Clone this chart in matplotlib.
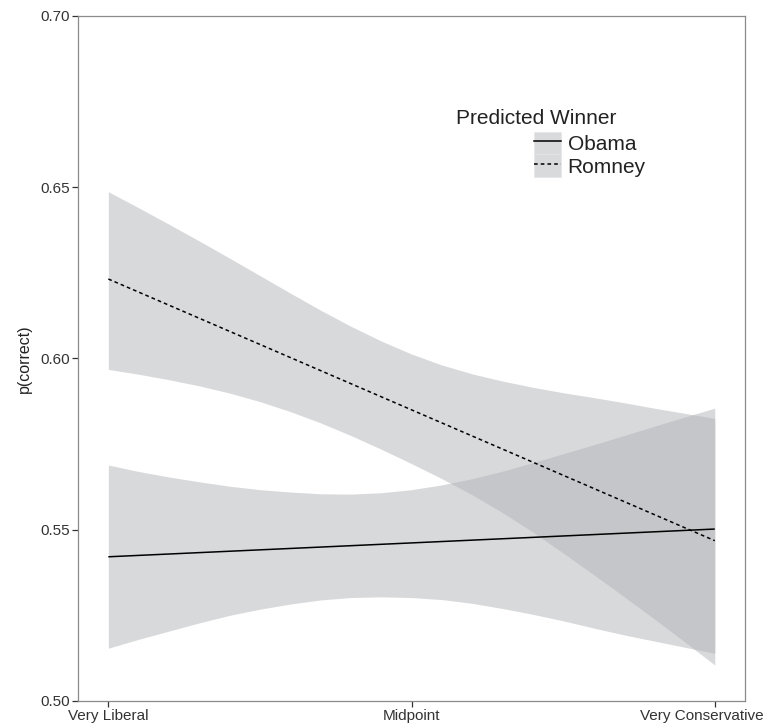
import matplotlib
matplotlib.use('Agg')
import matplotlib.pyplot as plt
import matplotlib.transforms as mtransforms
from matplotlib.patches import Patch
from matplotlib.lines import Line2D

plt.rcParams['font.family'] = ['Liberation Sans', 'DejaVu Sans']

# ideology position (0 = very liberal, 1 = very conservative)
x = [0.00, 0.05, 0.10, 0.15, 0.20, 0.25, 0.30, 0.35, 0.40, 0.45, 0.50,
     0.55, 0.60, 0.65, 0.70, 0.75, 0.80, 0.85, 0.90, 0.95, 1.00]
fit_x = [0.0, 1.0]

# Obama predicted winner: fitted line and confidence band
obama_fit = [0.5421, 0.5502]
obama_hi = [0.5689, 0.5670, 0.5654, 0.5640, 0.5627, 0.5617, 0.5610, 0.5605, 0.5604, 0.5608, 0.5617,
            0.5631, 0.5649, 0.5671, 0.5696, 0.5722, 0.5748, 0.5775, 0.5802, 0.5829, 0.5855]
obama_lo = [0.5154, 0.5180, 0.5204, 0.5228, 0.5250, 0.5268, 0.5283, 0.5295, 0.5302, 0.5304, 0.5302,
            0.5296, 0.5285, 0.5270, 0.5253, 0.5234, 0.5213, 0.5193, 0.5175, 0.5157, 0.5139]

# Romney predicted winner: fitted line and confidence band
romney_fit = [0.6232, 0.5468]
romney_hi = [0.6487, 0.6440, 0.6392, 0.6343, 0.6293, 0.6242, 0.6191, 0.6141, 0.6094, 0.6051, 0.6013,
             0.5981, 0.5955, 0.5934, 0.5916, 0.5900, 0.5886, 0.5871, 0.5855, 0.5840, 0.5825]
romney_lo = [0.5968, 0.5954, 0.5938, 0.5920, 0.5899, 0.5874, 0.5845, 0.5812, 0.5775, 0.5735, 0.5693,
             0.5649, 0.5602, 0.5550, 0.5493, 0.5432, 0.5369, 0.5305, 0.5240, 0.5173, 0.5105]

xticks = [0.0, 0.5, 1.0]
xticklabels = ['Very Liberal', 'Midpoint', 'Very Conservative']
yticks = [0.50, 0.55, 0.60, 0.65, 0.70]

band_color = '#b3b5b9'
dash = (0, (2.4, 2.0))

fig = plt.figure(figsize=(7.65, 7.27), dpi=100)
ax = fig.add_axes([0.102, 0.0358, 0.872, 0.9422])

ax.fill_between(x, obama_lo, obama_hi, color=band_color, alpha=0.5, linewidth=0)
ax.fill_between(x, romney_lo, romney_hi, color=band_color, alpha=0.5, linewidth=0)
ax.plot(fit_x, obama_fit, color='black', linewidth=1.1, solid_capstyle='butt')
ax.plot(fit_x, romney_fit, color='black', linewidth=1.1, linestyle=dash)

ax.set_xlim(-0.05, 1.05)
ax.set_ylim(0.50, 0.70)
ax.set_xticks(xticks)
ax.set_xticklabels(xticklabels)
ax.set_yticks(yticks)
ax.set_yticklabels(['%.2f' % v for v in yticks])

for s in ax.spines.values():
    s.set_color('#8a8a8a')
    s.set_linewidth(0.9)
ax.tick_params(direction='out', length=4, width=0.9, color='#333333',
               labelcolor='#333333', labelsize=11, pad=2)
ax.set_ylabel('p(correct)', fontsize=11.5, color='#222222', labelpad=6)

# last x label sits a bit left of its tick, as in the original
last = ax.get_xticklabels()[-1]
last.set_transform(last.get_transform() +
                   mtransforms.ScaledTranslation(-13 / 100, 0, fig.dpi_scale_trans))

# legend
ax.text(0.567, 0.851, 'Predicted Winner', transform=ax.transAxes,
        fontsize=15, color='#222222', ha='left', va='center')
key = Patch(facecolor='#d9dadc', edgecolor='#e4e5e7', linewidth=0.5)
handles = [(key, Line2D([], [], color='black', linewidth=1.1)),
           (key, Line2D([], [], color='black', linewidth=1.1, linestyle=dash))]
ax.legend(handles, ['Obama', 'Romney'], loc='upper left',
          bbox_to_anchor=(0.684, 0.831), frameon=False, fontsize=15,
          borderpad=0, borderaxespad=0, labelspacing=0.0,
          handlelength=1.3, handleheight=1.3, handletextpad=0.3,
          labelcolor='#222222')

fig.savefig('out.png', dpi=100)
